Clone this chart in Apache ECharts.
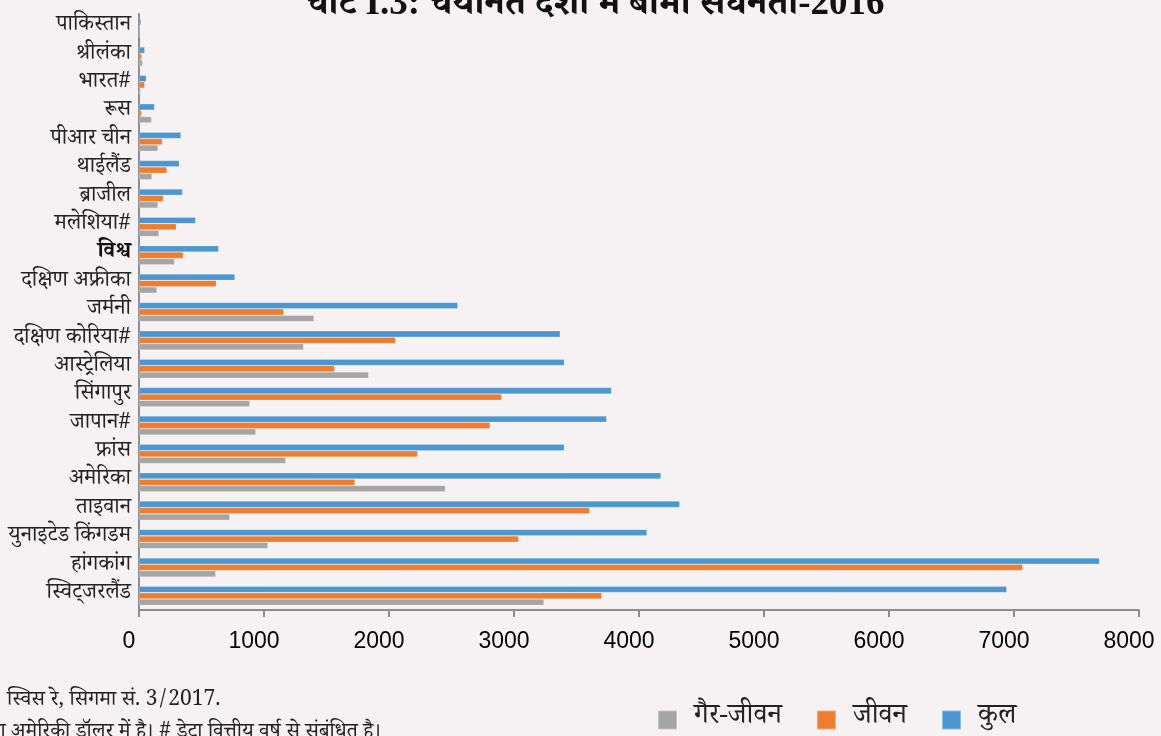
<!DOCTYPE html>
<html>
<head>
<meta charset="utf-8">
<script src="https://cdn.jsdelivr.net/npm/echarts@6/dist/echarts.min.js"></script>
<style>
html,body{margin:0;padding:0;background:#F6F2F3;}
#main{width:1161px;height:736px;}
</style>
</head>
<body>
<div id="main"></div>
<script>
// Categories listed bottom-to-top (axis order)
const categories = ['स्विट्जरलैंड','हांगकांग','युनाइटेड किंगडम','ताइवान','अमेरिका','फ्रांस','जापान#','सिंगापुर','आस्ट्रेलिया','दक्षिण कोरिया#','जर्मनी','दक्षिण अफ्रीका','विश्व','मलेशिया#','ब्राजील','थाईलैंड','पीआर चीन','रूस','भारत#','श्रीलंका','पाकिस्तान'];
const nonLife = [3240, 614, 1031, 726, 2451, 1174, 935, 886, 1837, 1317, 1400, 144, 285, 160, 152, 104, 152, 101, 13, 29, 2];
const life    = [3702, 7070, 3038, 3605, 1728, 2229, 2809, 2902, 1565, 2053, 1158, 619, 355, 299, 195, 224, 187, 21, 46, 21, 6];
const total   = [6942, 7684, 4064, 4326, 4176, 3403, 3741, 3781, 3403, 3370, 2551, 768, 637, 453, 349, 323, 336, 125, 59, 46, 16];
const seriesNames = ['गैर-जीवन','जीवन','कुल'];
const xTicks = {min: 0, max: 8000, interval: 1000};
const titleText = 'चार्ट I.3: चयनित देशों में बीमा सघनता-2016';
const sourceText = 'स्विस रे, सिगमा सं. 3/2017.';
const noteText = '1. बीमा सघनता अमेरिकी डॉलर में है। # डेटा वित्तीय वर्ष से संबंधित है।';

const devaFont = "'Noto Serif Devanagari','Noto Sans Devanagari','Lohit Devanagari','FreeSerif','Mangal',serif";
const colors = {'गैर-जीवन': '#A5A5A5', 'जीवन': '#ED7D31', 'कुल': '#4B97D1'};
const valsByName = {'गैर-जीवन': nonLife, 'जीवन': life, 'कुल': total};
// draw order: top bar in each group first
const drawOrder = ['कुल', 'जीवन', 'गैर-जीवन'];

const chart = echarts.init(document.getElementById('main'), null, {renderer: 'canvas'});
chart.setOption({
  backgroundColor: '#F6F2F3',
  animation: false,
  grid: {left: 139, right: 22, top: 14, bottom: 126, containLabel: false, outerBoundsMode: 'none'},
  legend: {
    left: 657, top: 706, padding: 0,
    itemWidth: 19, itemHeight: 19, itemGap: 34,
    icon: 'rect',
    data: seriesNames,
    textStyle: {fontSize: 28, color: '#222', fontFamily: devaFont, padding: [0, 0, 0, 12]}
  },
  xAxis: {
    type: 'value', min: xTicks.min, max: xTicks.max, interval: xTicks.interval,
    splitLine: {show: false},
    axisLine: {show: true, lineStyle: {color: '#8E8E8E', width: 2}},
    axisTick: {show: true, length: 7, lineStyle: {color: '#8E8E8E', width: 2}},
    axisLabel: {fontSize: 23, color: '#000', fontFamily: "'Liberation Sans', Arial, sans-serif", margin: 20,
      padding: [0, 20, 0, 0],
      formatter: v => String(v)}
  },
  yAxis: {
    type: 'category', data: categories,
    axisLine: {show: true, lineStyle: {color: '#8E8E8E', width: 2}},
    axisTick: {show: false},
    axisLabel: {
      interval: 0,
      fontSize: 22, color: '#222', fontFamily: devaFont, margin: 8,
      formatter: v => v === 'विश्व' ? '{b|' + v + '}' : v,
      rich: {b: {fontWeight: 'bold', fontSize: 22, fontFamily: devaFont, color: '#111'}}
    }
  },
  series: drawOrder.map(n => ({
    name: n, type: 'bar', data: valsByName[n],
    barWidth: 6.4, barGap: '0%',
    itemStyle: {color: colors[n], borderColor: 'rgba(255,255,255,0.35)', borderWidth: 0.6}
  })),
  graphic: [
    {type: 'text', x: 595, y: 23, style: {text: titleText, fill: '#111', font: "bold 37px 'Liberation Serif','Noto Serif Devanagari',serif", textAlign: 'center', textVerticalAlign: 'bottom'}},
    {type: 'text', x: 7, y: 703, style: {text: sourceText, fill: '#222', font: "21px " + devaFont, textAlign: 'left', textVerticalAlign: 'middle'}},
    {type: 'text', x: 381, y: 735, style: {text: noteText, fill: '#222', font: "21px " + devaFont, textAlign: 'right', textVerticalAlign: 'middle'}}
  ]
});
</script>
</body>
</html>
